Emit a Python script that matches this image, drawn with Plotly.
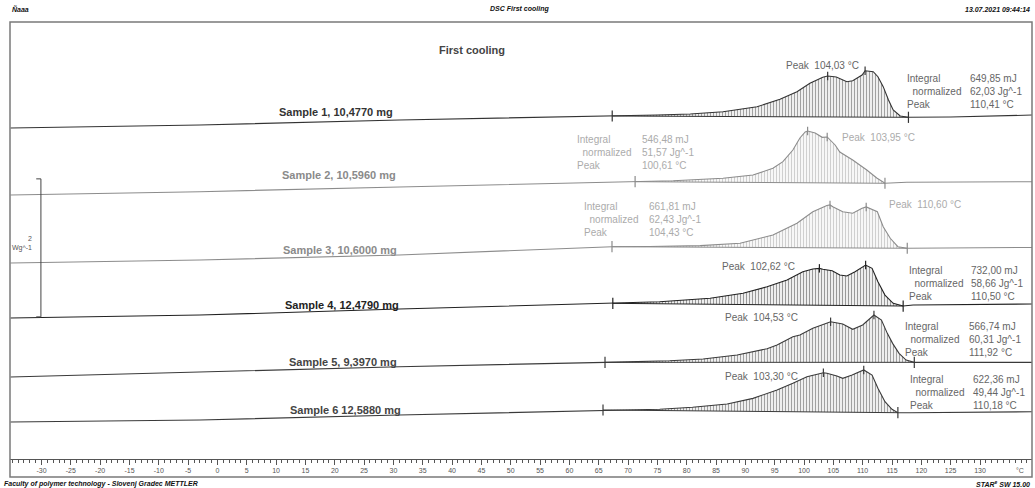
import numpy as np
import plotly.graph_objects as go

# ---- DSC first-cooling curves: temperature (°C) and heat flow (W/g, exo up) ----
T1 = [-35.3, -3, 31, 50, 67.3, 75, 80.6, 86.2, 92, 95.9, 98.8, 101, 103.2, 104.03, 105.5,
      107.3, 108.3, 109.9, 110.41, 111.8, 112.6, 113.5, 114.4, 115.2, 116.4, 117.8, 125, 132, 138.9]
HF1 = [0, 0.043, 0.116, 0.145, 0.174, 0.188, 0.203, 0.236, 0.309, 0.416, 0.526, 0.648, 0.735, 0.754, 0.739,
       0.671, 0.686, 0.768, 0.830, 0.816, 0.743, 0.599, 0.406, 0.261, 0.174, 0.155, 0.159, 0.174, 0.188]

T2 = [-35.3, -3, 31, 71.2, 77.7, 86.2, 91.3, 94.7, 96.4, 98.1, 99.3, 100.2, 100.61, 101.9, 103.1,
      103.95, 105.3, 106.1, 108.3, 110.7, 112.4, 113.8, 117.5, 138.9]
HF2 = [0, 0.048, 0.116, 0.193, 0.207, 0.242, 0.290, 0.387, 0.483, 0.652, 0.826, 0.913, 0.928, 0.899, 0.836,
       0.841, 0.725, 0.623, 0.507, 0.362, 0.246, 0.170, 0.184, 0.193]

T3 = [-35.3, -3, 31, 67.26, 73.7, 82.3, 89.1, 94.7, 98.8, 101.5, 103.9, 104.43, 104.9, 106.6, 108.3,
      109.9, 110.6, 112.5, 113.5, 114.7, 116.0, 117.6, 138.9]
HF3 = [0, 0.043, 0.116, 0.236, 0.239, 0.251, 0.286, 0.406, 0.575, 0.743, 0.833, 0.841, 0.816, 0.743, 0.720,
       0.793, 0.812, 0.743, 0.526, 0.358, 0.236, 0.213, 0.225]

T4 = [-35.3, -3, 31, 67.4, 75.4, 84.0, 89.6, 93.7, 97.1, 99.8, 101.5, 102.62, 103.2, 104.8, 106.1,
      107.3, 108.7, 110.5, 111.6, 112.6, 113.8, 115.2, 116.9, 118.6, 138.9]
HF4 = [0, 0.043, 0.130, 0.213, 0.236, 0.286, 0.358, 0.454, 0.551, 0.671, 0.710, 0.720, 0.706, 0.686, 0.623,
       0.609, 0.671, 0.768, 0.720, 0.526, 0.333, 0.213, 0.174, 0.188, 0.203]

T5 = [-35.3, -3, 31, 66.07, 71.5, 77.1, 82.8, 88.6, 93.7, 95.4, 98.1, 99.3, 101.5, 102.2, 104.53,
      106.6, 108.3, 110.0, 111.92, 113.2, 114.2, 115.1, 116.2, 117.4, 118.8, 126.6, 138.9]
HF5 = [0, 0.077, 0.149, 0.213, 0.222, 0.236, 0.261, 0.319, 0.410, 0.464, 0.584, 0.609, 0.706, 0.729, 0.801,
       0.768, 0.691, 0.754, 0.899, 0.826, 0.633, 0.488, 0.343, 0.246, 0.213, 0.213, 0.213]

T6 = [-35.3, -3, 31, 65.73, 75.4, 81.0, 86.9, 91.3, 95.4, 98.1, 100.5, 103.3, 103.9, 105.6, 106.6,
      108.2, 110.18, 111.6, 112.6, 113.8, 115.0, 116.0, 118.0, 138.9]
HF6 = [0, 0.029, 0.101, 0.174, 0.184, 0.213, 0.261, 0.343, 0.464, 0.561, 0.657, 0.714, 0.706, 0.667, 0.633,
       0.681, 0.754, 0.681, 0.488, 0.294, 0.184, 0.135, 0.135, 0.149]

TEMPS = [T1, T2, T3, T4, T5, T6]
FLOWS = [HF1, HF2, HF3, HF4, HF5, HF6]

# vertical stacking offset of each curve (W/g)
OFFSETS = [4.797, 3.826, 2.841, 2.043, 1.188, 0.536]

# integration limits (°C)
INT_START = [67.3, 71.2, 67.26, 67.4, 66.07, 65.73]
INT_END = [117.8, 113.8, 117.6, 116.9, 118.8, 116.0]

SAMPLES = ["Sample 1, 10,4770 mg", "Sample 2, 10,5960 mg", "Sample 3, 10,6000 mg",
           "Sample 4, 12,4790 mg", "Sample 5, 9,3970 mg", "Sample 6 12,5880 mg"]
INTEGRAL_MJ = [649.85, 546.48, 661.81, 732.00, 566.74, 622.36]
NORMALIZED_JG = [62.03, 51.57, 62.43, 58.66, 60.31, 49.44]
BLOCK_PEAK = [110.41, 100.61, 104.43, 110.50, 111.92, 110.18]
LABEL_PEAK = [104.03, 103.95, 110.60, 102.62, 104.53, 103.30]

X_TICKS = list(range(-30, 131, 5))
SCALE_BAR = 2.0      # W/g
SCALE_BAR_BASE = 2.06

# ---- styling / placement ----
LINE_COL = ["#333333", "#8c8c8c", "#8c8c8c", "#222222", "#3a3a3a", "#3a3a3a"]
HATCH_COL = ["#444444", "#a0a0a0", "#a0a0a0", "#333333", "#444444", "#444444"]
NAME_COL = ["#333333", "#8a8a8a", "#8a8a8a", "#222222", "#444444", "#444444"]
INFO_COL = ["#666666", "#ababab", "#ababab", "#666666", "#666666", "#666666"]
NAME_POS = [(10.15, 5.029), (10.66, 4.116), (10.83, 3.036), (11.17, 2.225), (11.85, 1.406), (12.03, 0.710)]
BLOCK_POS = [(117.2, 127.95, 5.319), (60.95, 72.0, 4.449), (62.1, 73.2, 3.471),
             (117.5, 128.2, 2.546), (116.9, 127.7, 1.732), (117.8, 128.5, 0.964)]
PEAK_TXT_POS = [(96.6, 5.710), (106.1, 4.662), (114.1, 3.691), (85.7, 2.787), (86.2, 2.048), (86.2, 1.193)]

FONT = "Liberation Sans, Arial, sans-serif"
X_RANGE = [-35.370, 138.866]
Y_RANGE = [0, 6.3333]


def fmt(v):
    return f"{v:.2f}".replace(".", ",")


fig = go.Figure()

for i in range(6):
    t = np.array(TEMPS[i], dtype=float)
    y = np.array(FLOWS[i], dtype=float) + OFFSETS[i]
    s, e = INT_START[i], INT_END[i]
    ys, ye = np.interp(s, t, y), np.interp(e, t, y)

    # integration baseline
    fig.add_trace(go.Scatter(x=[s, e], y=[ys, ye], mode="lines",
                             line=dict(color=LINE_COL[i], width=1), hoverinfo="skip"))
    # hatched peak area between baseline and curve
    m = (t >= s - 1e-9) & (t <= e + 1e-9)
    fig.add_trace(go.Scatter(x=t[m], y=y[m], mode="lines", line=dict(width=0, color="rgba(0,0,0,0)"),
                             fill="tonexty", fillcolor="rgba(0,0,0,0)",
                             fillpattern=dict(shape="|", size=3, solidity=0.45,
                                              fgcolor=HATCH_COL[i], bgcolor="rgba(0,0,0,0)"),
                             hoverinfo="skip"))
    # measured curve
    fig.add_trace(go.Scatter(x=t, y=y, mode="lines", line=dict(color=LINE_COL[i], width=1.1),
                             name=SAMPLES[i]))
    # integration limit marks
    fig.add_trace(go.Scatter(x=[s, e], y=[ys, ye], mode="markers",
                             marker=dict(symbol="line-ns-open", size=8, color=LINE_COL[i],
                                         line=dict(color=LINE_COL[i], width=1.2)),
                             hoverinfo="skip"))
    # peak marks
    pk = [BLOCK_PEAK[i], LABEL_PEAK[i]]
    fig.add_trace(go.Scatter(x=pk, y=np.interp(pk, t, y), mode="markers",
                             marker=dict(symbol="line-ns-open", size=6, color=LINE_COL[i],
                                         line=dict(color=LINE_COL[i], width=1.2)),
                             hoverinfo="skip"))

    # sample name
    fig.add_annotation(x=NAME_POS[i][0], y=NAME_POS[i][1], xref="x", yref="y",
                       text=f"<b>{SAMPLES[i]}</b>", showarrow=False, xanchor="left", yanchor="middle",
                       font=dict(family=FONT, size=11, color=NAME_COL[i]))
    # evaluation block
    lx, vx, by = BLOCK_POS[i]
    fig.add_annotation(x=lx, y=by, xref="x", yref="y", showarrow=False, xanchor="left",
                       yanchor="middle", align="left",
                       text="Integral<br>\u00a0\u00a0normalized<br>Peak",
                       font=dict(family=FONT, size=10, color=INFO_COL[i]))
    fig.add_annotation(x=vx, y=by, xref="x", yref="y", showarrow=False, xanchor="left",
                       yanchor="middle", align="left",
                       text=f"{fmt(INTEGRAL_MJ[i])} mJ<br>{fmt(NORMALIZED_JG[i])} Jg^-1<br>{fmt(BLOCK_PEAK[i])} °C",
                       font=dict(family=FONT, size=10, color=INFO_COL[i]))
    # second peak label
    fig.add_annotation(x=PEAK_TXT_POS[i][0], y=PEAK_TXT_POS[i][1], xref="x", yref="y", showarrow=False,
                       xanchor="left", yanchor="middle",
                       text=f"Peak\u00a0\u00a0{fmt(LABEL_PEAK[i])} °C",
                       font=dict(family=FONT, size=10, color=INFO_COL[i]))

# heat-flow scale bar
fig.add_trace(go.Scatter(x=[-30.9, -30.1, -30.1, -30.9],
                         y=[SCALE_BAR_BASE + SCALE_BAR, SCALE_BAR_BASE + SCALE_BAR,
                            SCALE_BAR_BASE, SCALE_BAR_BASE],
                         mode="lines", line=dict(color="#444444", width=1), hoverinfo="skip"))
fig.add_annotation(x=-31.3, y=SCALE_BAR_BASE + SCALE_BAR * 0.53, xref="x", yref="y", showarrow=False,
                   xanchor="right", yanchor="middle", align="right",
                   text=f"{SCALE_BAR:g}<br>Wg^-1", font=dict(family=FONT, size=7, color="#555555"))

# chart title
fig.add_annotation(x=37.4, y=5.928, xref="x", yref="y", showarrow=False, xanchor="left",
                   yanchor="middle", text="<b>First cooling</b>",
                   font=dict(family=FONT, size=11, color="#444444"))

# unit at the end of the temperature axis
fig.add_annotation(x=136.8, y=-0.0252, xref="x", yref="paper", showarrow=False,
                   xanchor="center", yanchor="middle", text="°C",
                   font=dict(family=FONT, size=7, color="#555555"))

# page header and footer
hdr = dict(family=FONT, size=7, color="#111111")
fig.add_annotation(x=0.0, y=1.0297, xref="paper", yref="paper", showarrow=False, xanchor="left",
                   yanchor="middle", text="<b><i>Ñaaa</i></b>", font=hdr)
fig.add_annotation(x=0.499, y=1.0297, xref="paper", yref="paper", showarrow=False, xanchor="center",
                   yanchor="middle", text="<b><i>DSC First cooling</i></b>", font=hdr)
fig.add_annotation(x=1.0, y=1.0297, xref="paper", yref="paper", showarrow=False, xanchor="right",
                   yanchor="middle", text="<b><i>13.07.2021 09:44:14</i></b>", font=hdr)
fig.add_annotation(x=-0.008, y=-0.0572, xref="paper", yref="paper", showarrow=False, xanchor="left",
                   yanchor="middle", text="<b><i>Faculty of polymer technology - Slovenj Gradec METTLER</i></b>",
                   font=hdr)
fig.add_annotation(x=1.0, y=-0.0572, xref="paper", yref="paper", showarrow=False, xanchor="right",
                   yanchor="middle", text="<b><i>STAR<sup>e</sup> SW 15.00</i></b>", font=hdr)

# frame around the diagram
fig.add_shape(type="rect", xref="paper", yref="paper", x0=0, x1=1, y0=-0.0412, y1=1.0,
              line=dict(color="#7a7a7a", width=1.5), fillcolor="rgba(0,0,0,0)")

fig.update_layout(
    width=1035, height=488,
    margin=dict(l=10, r=3, t=22, b=29),
    paper_bgcolor="white", plot_bgcolor="white",
    showlegend=False,
    xaxis=dict(range=X_RANGE, tickvals=X_TICKS, ticktext=[str(v) for v in X_TICKS],
               ticks="outside", ticklen=5, tickwidth=1, tickcolor="#555555",
               minor=dict(dtick=1, ticks="outside", ticklen=3, tickcolor="#555555", tickwidth=1),
               showline=True, linecolor="#555555", linewidth=1,
               showgrid=False, zeroline=False,
               tickfont=dict(family=FONT, size=7, color="#555555")),
    yaxis=dict(range=Y_RANGE, visible=False, showgrid=False, zeroline=False),
)

fig.write_html("out.html")
